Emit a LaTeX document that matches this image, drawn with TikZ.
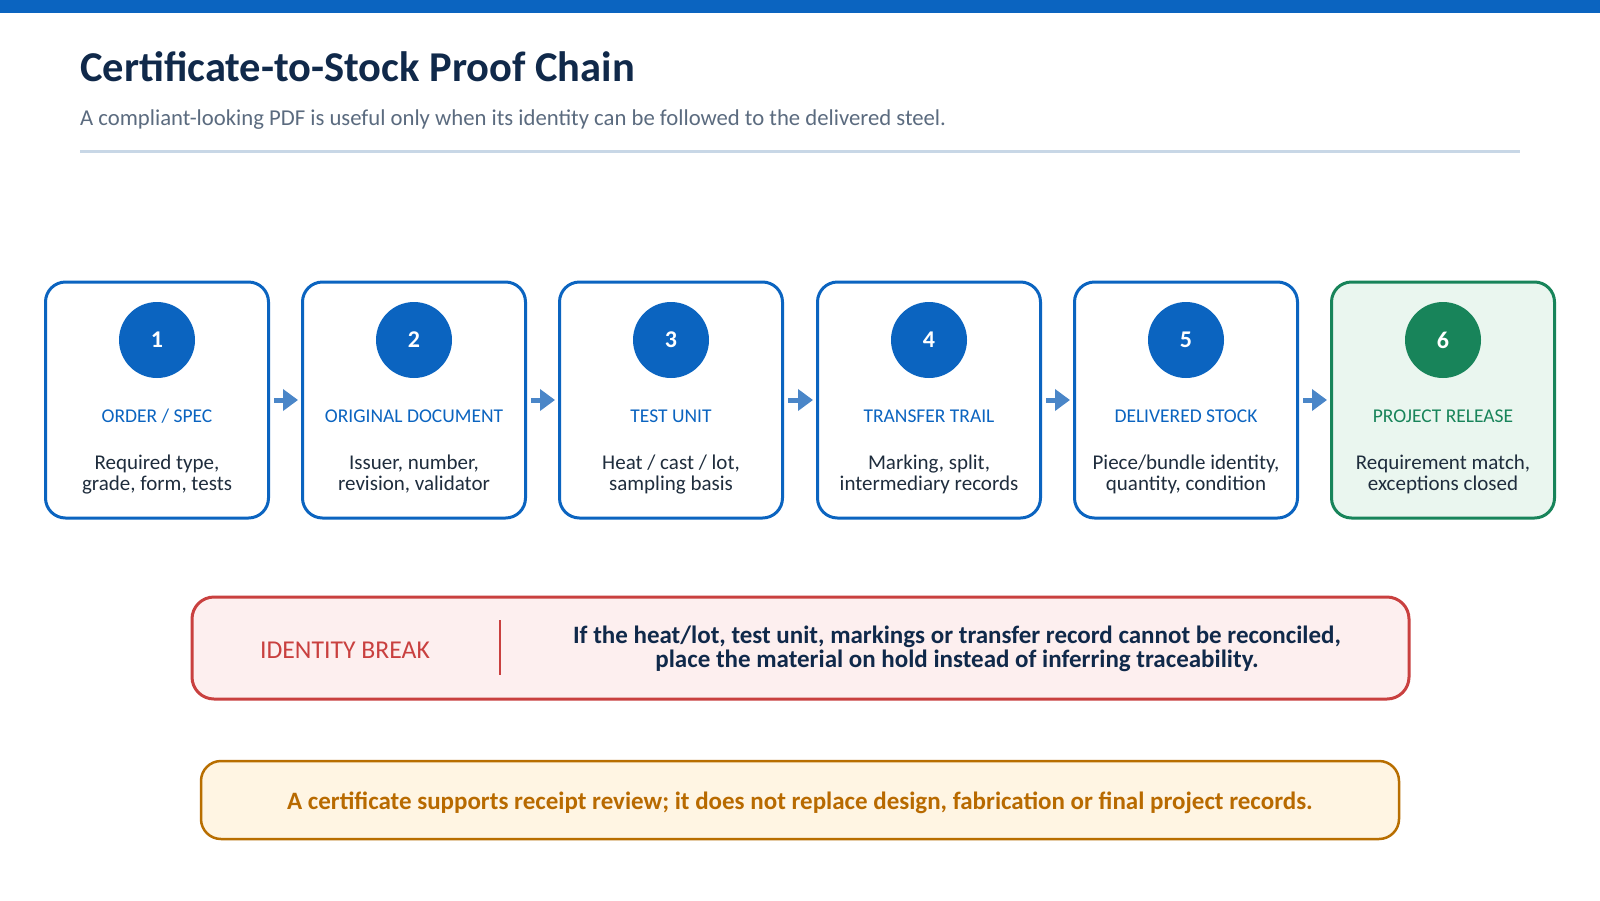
\documentclass[tikz,border=0pt]{standalone}
\usepackage{fontspec}
\setmainfont{Carlito}
\usetikzlibrary{arrows.meta}
\definecolor{mblue}{HTML}{0B64C0}
\definecolor{arrblue}{HTML}{4A86C8}
\definecolor{mgreen}{HTML}{18845A}
\definecolor{gfill}{HTML}{EAF6EF}
\definecolor{rline}{HTML}{C9403F}
\definecolor{rfill}{HTML}{FDEFEF}
\definecolor{oline}{HTML}{B86E00}
\definecolor{ofill}{HTML}{FFF5E3}
\definecolor{otext}{HTML}{B86A00}
\definecolor{titlec}{HTML}{10294A}
\definecolor{subc}{HTML}{5B6B7F}
\definecolor{descc}{HTML}{1F2D3D}
\definecolor{sepc}{HTML}{C8D7E6}
\tikzset{
  stepbox/.style={draw=mblue, line width=3pt, rounded corners=20pt, minimum width=223pt, minimum height=236pt, inner sep=0pt, fill=white},
  numdot/.style={circle, fill=mblue, minimum size=76pt, inner sep=0pt, text=white, font=\fontsize{24}{26}\selectfont\bfseries},
  steplabel/.style={text=mblue, font=\fontsize{19.5}{21}\selectfont, anchor=base, inner sep=0pt},
  stepdesc/.style={text=descc, font=\fontsize{21}{21}\selectfont, align=center, inner sep=0pt},
  flowarr/.style={draw=arrblue, line width=5pt, -{Triangle[length=15pt,width=21pt]}, shorten <=4pt, shorten >=3pt},
}
\begin{document}
\begin{tikzpicture}[x=1pt,y=-1pt]
\useasboundingbox (0,0) rectangle (1600,900);
\fill[white] (0,0) rectangle (1600,900);
\fill[mblue] (0,0) rectangle (1600,13);
\node[anchor=base west, inner sep=0pt, text=titlec, font=\fontsize{42.5}{46}\selectfont\bfseries] (title) at (80,81) {Certificate-to-Stock Proof Chain};
\node[anchor=base west, inner sep=0pt, text=subc, font=\fontsize{22.7}{25}\selectfont] (subtitle) at (80,125.5) {A compliant-looking PDF is useful only when its identity can be followed to the delivered steel.};
\draw[sepc, line width=3pt] (80,151) coordinate (sepa) -- (1520,151) coordinate (sepb);
% boxes
\foreach \i/\x/\lbl/\da/\db in {
  1/157/{ORDER / SPEC}/{Required type,}/{grade, form, tests},
  2/414/{ORIGINAL DOCUMENT}/{Issuer, number,}/{revision, validator},
  3/671/{TEST UNIT}/{Heat / cast / lot,}/{sampling basis},
  4/929/{TRANSFER TRAIL}/{Marking, split,}/{intermediary records},
  5/1186/{DELIVERED STOCK}/{Piece/bundle identity,}/{quantity, condition}}{
  \node[stepbox] (b\i) at (\x,400) {};
  \node[numdot] (n\i) at (\x,340) {\i};
  \node[steplabel] (l\i) at (\x,422) {\lbl};
  \node[stepdesc] (d\i) at (\x,474.5) {\da\\\db};
}
\node[stepbox, draw=mgreen, fill=gfill] (b6) at (1443,400) {};
\node[numdot, fill=mgreen] (n6) at (1443,340) {6};
\node[steplabel, text=mgreen] (l6) at (1443,422) {PROJECT RELEASE};
\node[stepdesc] (d6) at (1443,474.5) {Requirement match,\\exceptions closed};
\foreach \a/\b in {1/2,2/3,3/4,4/5,5/6}{
  \draw[flowarr] (b\a.east) -- (b\b.west);
}
% identity break
\node[draw=rline, fill=rfill, line width=3pt, rounded corners=22pt, minimum width=1217pt, minimum height=102pt, inner sep=0pt] (ib) at (800.5,648) {};
\node[text=rline, font=\fontsize{25.7}{27}\selectfont, inner sep=0pt] (ibl) at (345,650) {IDENTITY BREAK};
\draw[rline, line width=2.5pt] (500,620) coordinate (dva) -- (500,675) coordinate (dvb);
\node[text=titlec, font=\fontsize{25}{23.5}\selectfont\bfseries, align=center, inner sep=0pt] (ibt) at (957,649) {If the heat/lot, test unit, markings or transfer record cannot be reconciled,\\place the material on hold instead of inferring traceability.};
% bottom note
\node[draw=oline, fill=ofill, line width=2.5pt, rounded corners=20pt, minimum width=1198pt, minimum height=78pt, inner sep=0pt] (note) at (800,800) {};
\node[text=otext, font=\fontsize{25}{27}\selectfont\bfseries, inner sep=0pt] (notet) at (800,802.5) {A certificate supports receipt review; it does not replace design, fabrication or final project records.};
\end{tikzpicture}
\end{document}
